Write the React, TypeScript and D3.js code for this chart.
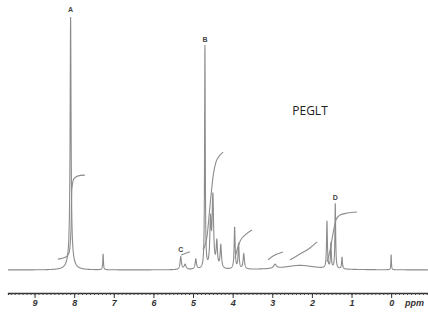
import React, { useRef, useEffect } from 'react';
import * as d3 from 'd3';

// peak list: [ppm, relative height, half width (ppm)]
const peakPpm = [8.09, 8.09, 7.27, 5.31, 5.2, 4.93, 4.7, 4.56, 4.5, 4.4, 4.3, 3.95, 3.85, 3.72, 2.93, 2.3, 1.62, 1.52, 1.41, 1.24, 0.0];
const peakHeight = [0.94, 0.06, 0.063, 0.05, 0.02, 0.04, 0.88, 0.18, 0.28, 0.1, 0.09, 0.165, 0.1, 0.06, 0.016, 0.018, 0.186, 0.1, 0.257, 0.047, 0.06];
const peakWidth = [0.014, 0.07, 0.01, 0.02, 0.03, 0.02, 0.01, 0.02, 0.022, 0.02, 0.02, 0.015, 0.015, 0.02, 0.04, 0.5, 0.013, 0.012, 0.011, 0.012, 0.008];

// integral traces: [ppm, level]
const integrals: [number, number][][] = [
  [[8.41, 0.043], [8.21, 0.051], [8.13, 0.067], [8.08, 0.158], [8.06, 0.316], [8.01, 0.36], [7.9, 0.372], [7.73, 0.375]],
  [[5.3, 0.059], [5.08, 0.072]],
  [[4.75, 0.079], [4.65, 0.13], [4.57, 0.257], [4.49, 0.375], [4.42, 0.427], [4.34, 0.45], [4.24, 0.466]],
  [[3.94, 0.047], [3.89, 0.079], [3.81, 0.115], [3.69, 0.138], [3.51, 0.158]],
  [[3.11, 0.04], [2.98, 0.055], [2.73, 0.071]],
  [[2.55, 0.04], [2.3, 0.063], [2.05, 0.087], [1.87, 0.111]],
  [[1.62, 0.032], [1.54, 0.079], [1.46, 0.15], [1.39, 0.198], [1.29, 0.217], [1.11, 0.225], [0.86, 0.229]],
];

const labels = ['A', 'B', 'C', 'D'];
const labelPpm = [8.09, 4.7, 5.31, 1.41];
const labelLevel = [1.0, 0.88, 0.05, 0.257];
const tickValues = [9, 8, 7, 6, 5, 4, 3, 2, 1, 0];

const App: React.FC = () => {
  const svgRef = useRef<SVGSVGElement>(null);
  const width = 428;
  const height = 320;

  useEffect(() => {
    if (!svgRef.current) return;
    const svg = d3.select(svgRef.current);
    svg.selectAll('*').remove();

    const x = d3.scaleLinear().domain([9.67, -0.93]).range([8, 428]);
    const y = d3.scaleLinear().domain([0, 1]).range([270, 17]);
    const grey = '#8c8c8c';

    // spectrum trace, sum of lorentzian lines
    const grid = d3.range(9.67, -0.93, -0.002);
    const spectrum = grid.map(p => {
      let v = 0;
      peakPpm.forEach((c, i) => {
        const d = (p - c) / peakWidth[i];
        v += peakHeight[i] / (1 + d * d);
      });
      return [p, v] as [number, number];
    });

    const line = d3.line<[number, number]>()
      .x(d => x(d[0]))
      .y(d => y(d[1]));

    svg.append('path')
      .datum(spectrum)
      .attr('d', line)
      .attr('fill', 'none')
      .attr('stroke', grey)
      .attr('stroke-width', 1.1);

    const intLine = d3.line<[number, number]>()
      .x(d => x(d[0]))
      .y(d => y(d[1]))
      .curve(d3.curveMonotoneX);

    integrals.forEach(seg => {
      svg.append('path')
        .datum(seg)
        .attr('d', intLine)
        .attr('fill', 'none')
        .attr('stroke', grey)
        .attr('stroke-width', 1.1);
    });

    // peak labels
    labels.forEach((t, i) => {
      svg.append('text')
        .attr('x', x(labelPpm[i]))
        .attr('y', y(labelLevel[i]) - 5)
        .attr('text-anchor', 'middle')
        .attr('font-family', 'Liberation Sans, Arial, sans-serif')
        .attr('font-size', '7px')
        .attr('font-weight', 700)
        .attr('fill', '#444')
        .text(t);
    });

    svg.append('text')
      .attr('x', 310)
      .attr('y', 115)
      .attr('text-anchor', 'middle')
      .attr('font-family', 'Open Sans, sans-serif')
      .attr('font-size', '12px')
      .attr('fill', '#222')
      .text('PEGLT');

    // ppm ruler
    const axisY = 293;
    const minor = svg.append('g')
      .attr('transform', `translate(0,${axisY})`)
      .call(d3.axisBottom(x).tickValues(d3.range(9.6, -0.95, -0.1)).tickSize(2).tickFormat(() => ''));
    minor.select('.domain').attr('stroke', '#333').attr('stroke-width', 1.3);
    minor.selectAll('line').attr('stroke', '#444');

    const major = svg.append('g')
      .attr('transform', `translate(0,${axisY})`)
      .call(d3.axisBottom(x).tickValues(tickValues).tickSize(5).tickPadding(2).tickFormat(d3.format('d')));
    major.select('.domain').remove();
    major.selectAll('line').attr('stroke', '#333');
    major.selectAll('text')
      .attr('font-family', 'Liberation Sans, Arial, sans-serif')
      .attr('font-size', '9px')
      .attr('font-style', 'italic')
      .attr('font-weight', 700)
      .attr('fill', '#333');

    svg.append('text')
      .attr('x', 405)
      .attr('y', 306)
      .attr('font-family', 'Liberation Sans, Arial, sans-serif')
      .attr('font-size', '9px')
      .attr('font-style', 'italic')
      .attr('font-weight', 700)
      .attr('fill', '#333')
      .text('ppm');
  }, []);

  return (
    <svg
      ref={svgRef}
      width={width}
      height={height}
      style={{ position: 'absolute', left: 0, top: 0, background: '#fff' }}
    />
  );
};

export default App;
